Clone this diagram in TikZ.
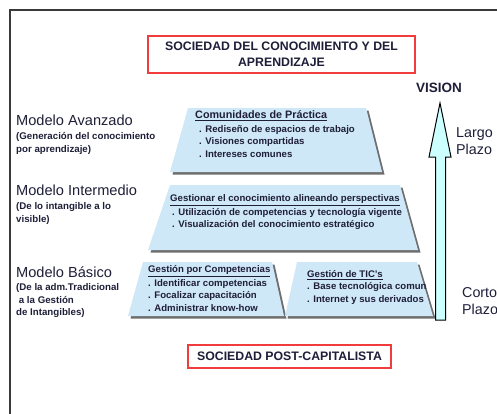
\documentclass[tikz,border=0pt]{standalone}
\usepackage{fontspec}
\setmainfont{Liberation Sans}
\usetikzlibrary{positioning}
\definecolor{PlanInk}{HTML}{1E1E38}
\definecolor{PlanRed}{HTML}{F03C3C}
\definecolor{PlanBlue}{HTML}{CFE8F8}
\definecolor{PlanShadow}{HTML}{6E6E6E}
\definecolor{PlanCyan}{HTML}{CCFFFF}
\definecolor{PlanFrame}{HTML}{3A3A3A}
\tikzset{
  societybox/.style={draw=PlanRed,line width=1.3pt,align=center,text=PlanInk,font=\fontsize{12.3}{15.5}\selectfont\bfseries,inner sep=0pt},
  modeltitle/.style={anchor=base west,inner sep=0pt,text=PlanInk,font=\fontsize{14.6}{17}\selectfont},
  modelnote/.style={anchor=north west,inner sep=0pt,align=left,text=PlanInk,font=\fontsize{9.7}{12.5}\selectfont\bfseries},
  tier/.style={fill=PlanBlue},
  tiershadow/.style={fill=PlanShadow,shift={(2.5,2.5)}},
  tierhead/.style={anchor=west,inner sep=0pt,text=PlanInk,font=\fontsize{9.6}{12}\selectfont\bfseries},
  tierlist/.style={anchor=north west,inner sep=0pt,align=left,text=PlanInk,font=\fontsize{9.6}{12.5}\selectfont\bfseries},
  horizon/.style={draw=black,line width=1pt,fill=PlanCyan,line join=miter},
  termlabel/.style={anchor=north west,inner sep=0pt,align=left,text=PlanInk,font=\fontsize{14.3}{17}\selectfont}
}
\begin{document}
\begin{tikzpicture}[x=1pt,y=-1pt]
  \useasboundingbox (0,0) rectangle (497,413);
  \clip (0,0) rectangle (497,413);
  \draw[PlanFrame,line width=1.6pt] (10,10) rectangle (512,432);
  % societies
  \node[societybox,minimum width=267pt,minimum height=37pt] (knowledge) at (281.5,54.5) {SOCIEDAD DEL CONOCIMIENTO Y DEL\\APRENDIZAJE};
  \node[societybox,minimum width=203pt,minimum height=23pt] (postcap) at (289.5,356.5) {SOCIEDAD POST-CAPITALISTA};
  % tiers
  \fill[tiershadow] (188,108) -- (366,108) -- (382,172) -- (170,172) -- cycle;
  \fill[tier] (188,108) -- (366,108) -- (382,172) -- (170,172) -- cycle;
  \fill[tiershadow] (170,185) -- (400,185) -- (418,250) -- (148,250) -- cycle;
  \fill[tier] (170,185) -- (400,185) -- (418,250) -- (148,250) -- cycle;
  \fill[tiershadow] (143,262) -- (272,262) -- (284,316) -- (128,316) -- cycle;
  \fill[tier] (143,262) -- (272,262) -- (284,316) -- (128,316) -- cycle;
  \fill[tiershadow] (297,262) -- (417,262) -- (433,316) -- (285,316) -- cycle;
  \fill[tier] (297,262) -- (417,262) -- (433,316) -- (285,316) -- cycle;
  \node[tierhead,font=\fontsize{10.8}{12}\selectfont\bfseries] (practiceHead) at (195,116) {\underline{Comunidades de Práctica}};
  \node[tierlist,below=4pt of practiceHead.south west,anchor=north west,xshift=4pt] (practiceList) {. Rediseño de espacios de trabajo\\. Visiones compartidas\\. Intereses comunes};
  \node[tierhead] (alignHead) at (170,200) {\underline{Gestionar el conocimiento alineando perspectivas}};
  \node[tierlist,below=2.5pt of alignHead.south west,anchor=north west,xshift=2pt] (alignList) {. Utilización de competencias y tecnología vigente\\. Visualización del conocimiento estratégico};
  \node[tierhead] (skillsHead) at (148,271) {\underline{Gestión por Competencias}};
  \node[tierlist,below=2.5pt of skillsHead.south west,anchor=north west] (skillsList) {. Identificar competencias\\. Focalizar capacitación\\. Administrar know-how};
  \node[tierhead] (ictHead) at (307,275) {\underline{Gestión de TIC's}};
  \node[tierlist,below=2.5pt of ictHead.south west,anchor=north west] (ictList) {. Base tecnológica comun\\. Internet y sus derivados};
  % models
  \node[modeltitle] (advanced) at (16,125) {Modelo Avanzado};
  \node[modelnote,below=7pt of advanced.south west,anchor=north west] (advancedNote) {(Generación del conocimiento\\por aprendizaje)};
  \node[modeltitle] (middle) at (16,195) {Modelo Intermedio};
  \node[modelnote,below=7pt of middle.south west,anchor=north west] (middleNote) {(De lo intangible a lo\\visible)};
  \node[modeltitle] (basic) at (16,277) {Modelo Básico};
  \node[modelnote,below=6pt of basic.south west,anchor=north west] (basicNote) {(De la adm.Tradicional\\\ a la Gestión\\de Intangibles)};
  % horizon
  \node[inner sep=0pt,text=PlanInk,font=\fontsize{13.5}{16}\selectfont\bfseries] (vision) at (439,88) {VISION};
  \draw[horizon] (440,103) -- (451,157) -- (445.5,157) -- (445.5,320) -- (435.5,320) -- (435.5,157) -- (429,157) -- cycle;
  \node[termlabel] (longTerm) at (456,127) {Largo\\Plazo};
  \node[termlabel] (shortTerm) at (462,287) {Corto\\Plazo};
\end{tikzpicture}
\end{document}
